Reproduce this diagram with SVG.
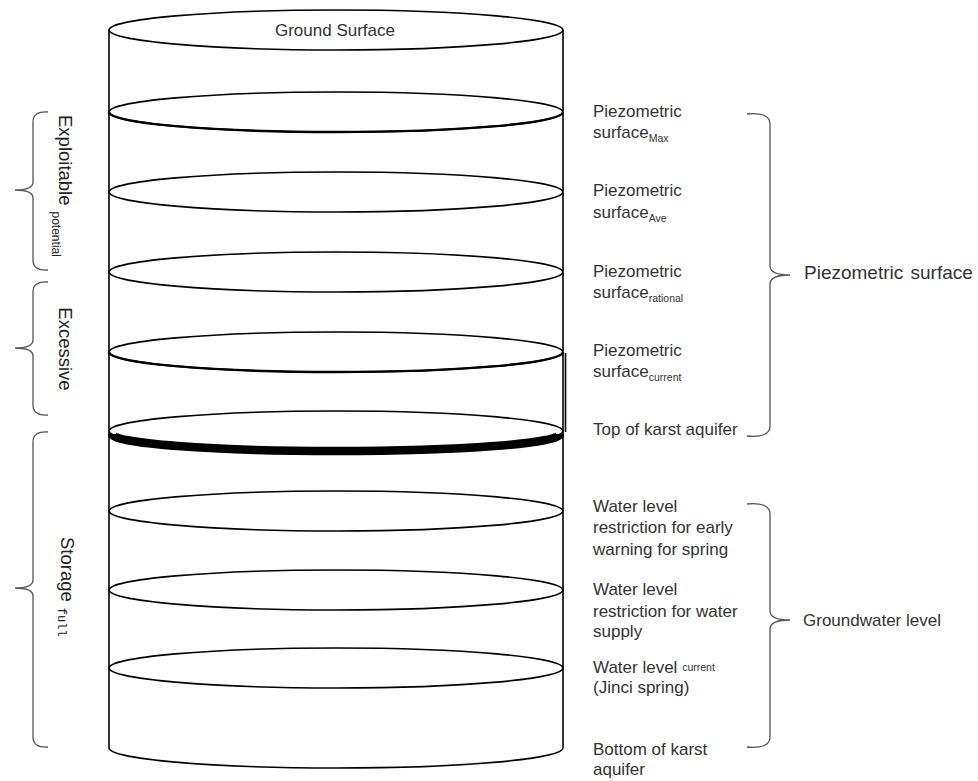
<svg xmlns="http://www.w3.org/2000/svg" width="978" height="781" viewBox="0 0 978 781">
<style>
.ln{fill:none;stroke:#000;stroke-width:1.6}
.el{fill:#fff;stroke:#000;stroke-width:1.6}
.br{fill:none;stroke:#555;stroke-width:1.3}
.t{font-family:"Liberation Sans",Arial,sans-serif;font-size:17px;fill:#333}
.s{font-size:10.5px}
.lt{font-family:"Liberation Sans",Arial,sans-serif;font-size:18.5px;fill:#222}
</style>
<rect width="978" height="781" fill="#fff"/>
<g id="cylinder">
<line class="ln" x1="109" y1="30" x2="109" y2="748"/>
<line class="ln" x1="563" y1="30" x2="563" y2="748"/>
<line class="ln" x1="565.5" y1="353" x2="565.5" y2="432"/>
<path class="ln" d="M109,748 A227,20 0 0 0 563,748"/>
</g>
<g id="ground"><ellipse class="el" cx="336" cy="30" rx="227" ry="20"/><text class="t" x="335" y="36" text-anchor="middle">Ground Surface</text></g>
<g id="lvl-max"><ellipse class="el" cx="336" cy="112" rx="227" ry="20"/><path class="ln" style="stroke-width:2.4" d="M109,112 A227,20 0 0 0 563,112"/></g>
<g id="lvl-ave"><ellipse class="el" cx="336" cy="192" rx="227" ry="20"/></g>
<g id="lvl-rational"><ellipse class="el" cx="336" cy="272" rx="227" ry="20"/></g>
<g id="lvl-current"><ellipse class="el" cx="336" cy="352" rx="227" ry="20"/><path class="ln" style="stroke-width:2.4" d="M109,352 A227,20 0 0 0 563,352"/></g>
<g id="lvl-top-karst"><ellipse class="el" cx="336" cy="431" rx="227" ry="20"/><path class="ln" style="stroke-width:8.5" d="M112,434 A224,17 0 0 0 560,434"/></g>
<g id="lvl-warning"><ellipse class="el" cx="336" cy="511" rx="227" ry="20"/></g>
<g id="lvl-supply"><ellipse class="el" cx="336" cy="590" rx="227" ry="20"/></g>
<g id="lvl-jinci"><ellipse class="el" cx="336" cy="668" rx="227" ry="20"/></g>

<g id="right-labels">
<text class="t" x="593" y="117">Piezometric</text>
<text class="t" x="593" y="138">surface<tspan class="s" dy="4">Max</tspan></text>
<text class="t" x="593" y="196">Piezometric</text>
<text class="t" x="593" y="218">surface<tspan class="s" dy="4">Ave</tspan></text>
<text class="t" x="593" y="277">Piezometric</text>
<text class="t" x="593" y="298">surface<tspan class="s" dy="4">rational</tspan></text>
<text class="t" x="593" y="356">Piezometric</text>
<text class="t" x="593" y="377">surface<tspan class="s" dy="4">current</tspan></text>
<text class="t" x="593" y="435">Top of karst aquifer</text>
<text class="t" x="593" y="512">Water level</text>
<text class="t" x="593" y="533">restriction for early</text>
<text class="t" x="593" y="555">warning for spring</text>
<text class="t" x="593" y="595">Water level</text>
<text class="t" x="593" y="617">restriction for water</text>
<text class="t" x="593" y="637">supply</text>
<text class="t" x="593" y="673">Water level <tspan class="s" dy="-2">current</tspan></text>
<text class="t" x="593" y="693">(Jinci spring)</text>
<text class="t" x="593" y="755">Bottom of karst</text>
<text class="t" x="593" y="775">aquifer</text>
</g>

<g id="brace-piezo">
<path class="br" d="M747,114 Q770,112 770,124 L770,266 Q770,275 790,275 Q770,275 770,284 L770,426 Q770,438 747,436"/>
<text class="t" x="804" y="279" style="font-size:19px;word-spacing:2px">Piezometric surface</text>
</g>
<g id="brace-gw">
<path class="br" d="M747,504 Q770,502 770,514 L770,611 Q770,620 790,620 Q770,620 770,629 L770,737 Q770,749 747,747"/>
<text class="t" x="803" y="626">Groundwater level</text>
</g>

<g id="brace-exploitable">
<path class="br" d="M48,112 Q33,111 33,122 L33,182 Q33,190 15,190 Q33,190 33,198 L33,260 Q33,271 48,270"/>
<text class="lt" transform="translate(59,115) rotate(90)">Exploitable<tspan font-size="12" dy="7" dx="6">potential</tspan></text>
</g>
<g id="brace-excessive">
<path class="br" d="M48,282 Q33,281 33,292 L33,340 Q33,348 15,348 Q33,348 33,356 L33,405 Q33,416 48,415"/>
<text class="lt" transform="translate(59,349) rotate(90)" text-anchor="middle">Excessive</text>
</g>
<g id="brace-storage">
<path class="br" d="M48,432 Q33,431 33,442 L33,580 Q33,588 15,588 Q33,588 33,596 L33,737 Q33,748 48,747"/>
<text class="lt" transform="translate(61,537) rotate(90)">Storage<tspan font-family="'Liberation Mono',monospace" font-size="12" dy="3" dx="6">full</tspan></text>
</g>
</svg>
